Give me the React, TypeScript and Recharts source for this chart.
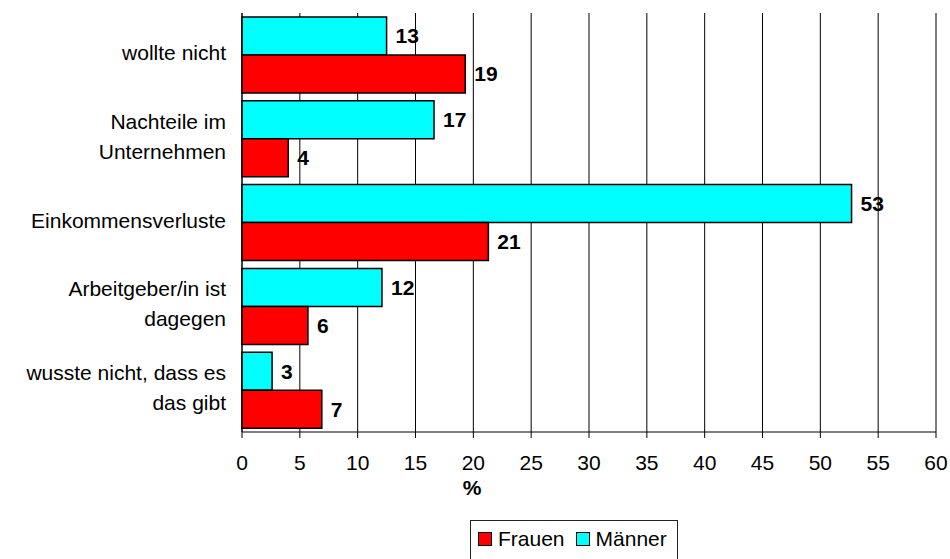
import React from 'react';
import {
  BarChart,
  Bar,
  XAxis,
  YAxis,
  CartesianGrid,
  LabelList,
  Legend,
  Label,
} from 'recharts';

const categories = [
  'wollte nicht',
  'Nachteile im\nUnternehmen',
  'Einkommensverluste',
  'Arbeitgeber/in ist\ndagegen',
  'wusste nicht, dass es\ndas gibt',
];
const maenner = [12.5, 16.6, 52.7, 12.1, 2.6];
const frauen = [19.3, 4.0, 21.3, 5.7, 6.9];
const xTicks = [0, 5, 10, 15, 20, 25, 30, 35, 40, 45, 50, 55, 60];
const boundaryTicks = [0, 1, 2, 3, 4, 5];
const legendItems = [
  { name: 'Frauen', color: '#FF0000' },
  { name: 'Männer', color: '#00FFFF' },
];

const data = categories.map((name, i) => ({
  name,
  maenner: maenner[i],
  frauen: frauen[i],
}));

const FONT = '"Liberation Sans", Arial, Helvetica, sans-serif';

const CategoryTick = (props: any) => {
  const { x, y, payload } = props;
  const lines = String(payload.value).split('\n');
  const lh = 30;
  const start = -((lines.length - 1) * lh) / 2 + 5;
  return (
    <text
      x={x}
      y={y}
      textAnchor="end"
      fontFamily={FONT}
      fontSize={21}
      fill="#000"
    >
      {lines.map((l, i) => (
        <tspan key={i} x={x} y={y + start + i * lh}>
          {l}
        </tspan>
      ))}
    </text>
  );
};

const LegendContent = () => (
  <div
    style={{
      boxSizing: 'border-box',
      width: 208,
      height: 42,
      border: '1px solid #222',
      background: '#fff',
      display: 'flex',
      alignItems: 'center',
      paddingLeft: 7,
      paddingBottom: 4,
      fontFamily: FONT,
      fontSize: 21,
      color: '#000',
    }}
  >
    {legendItems.map((it, i) => (
      <div
        key={it.name}
        style={{ display: 'flex', alignItems: 'center', marginRight: i === 0 ? 11 : 0 }}
      >
        <span
          style={{
            display: 'inline-block',
            width: 12,
            height: 12,
            border: '1.5px solid #000',
            background: it.color,
            marginRight: 6,
          }}
        />
        <span>{it.name}</span>
      </div>
    ))}
  </div>
);

export default function App() {
  return (
    <div style={{ position: 'absolute', left: 0, top: 0, background: '#fff' }}>
      <BarChart
        width={950}
        height={559}
        data={data}
        layout="vertical"
        margin={{ top: 13, right: 14, bottom: 61, left: 0 }}
        barCategoryGap={4}
        barGap={0}
      >
        <CartesianGrid
          xAxisId="main"
          yAxisId="cat"
          horizontal={false}
          vertical={true}
          stroke="#000"
          strokeWidth={1}
        />
        <XAxis
          xAxisId="main"
          type="number"
          domain={[0, 60]}
          ticks={xTicks}
          interval={0}
          height={66}
          tickSize={6}
          tickMargin={17}
          axisLine={{ stroke: '#000', strokeWidth: 1 }}
          tickLine={{ stroke: '#000' }}
          tick={{ fontFamily: FONT, fontSize: 21, fill: '#000' }}
        >
          <Label
            value="%"
            position="insideBottom"
            offset={3}
            dx={-117}
            style={{ fontFamily: FONT, fontSize: 21, fontWeight: 'bold', fill: '#000' }}
          />
        </XAxis>
        <XAxis
          xAxisId="top"
          orientation="top"
          type="number"
          domain={[0, 60]}
          height={0}
          tick={false}
          tickLine={false}
          axisLine={{ stroke: '#999', strokeWidth: 2 }}
        />
        <YAxis
          yAxisId="bounds"
          type="number"
          domain={[0, 5]}
          ticks={boundaryTicks}
          interval={0}
          allowDataOverflow
          width={0}
          tick={false}
          tickSize={6}
          tickLine={{ stroke: '#000' }}
          axisLine={false}
        />
        <YAxis
          yAxisId="cat"
          type="category"
          dataKey="name"
          width={242}
          interval={0}
          tickLine={false}
          tickSize={6}
          tickMargin={10}
          axisLine={{ stroke: '#000', strokeWidth: 1 }}
          tick={<CategoryTick />}
        />
        <YAxis
          yAxisId="right"
          orientation="right"
          type="number"
          domain={[0, 1]}
          width={0}
          tick={false}
          tickLine={false}
          axisLine={{ stroke: '#999', strokeWidth: 2 }}
        />
        <Legend
          layout="horizontal"
          align="center"
          verticalAlign="middle"
          wrapperStyle={{ left: 470, top: 520, width: 208 }}
          content={<LegendContent />}
        />
        <Bar
          xAxisId="main"
          yAxisId="cat"
          dataKey="maenner"
          name="Männer"
          fill="#00FFFF"
          stroke="#000"
          strokeWidth={1.5}
          isAnimationActive={false}
        >
          <LabelList
            dataKey="maenner"
            position="right"
            offset={9}
            formatter={(v: any) => Math.round(Number(v))}
            style={{ fontFamily: FONT, fontSize: 21, fontWeight: 'bold', fill: '#000' }}
          />
        </Bar>
        <Bar
          xAxisId="main"
          yAxisId="cat"
          dataKey="frauen"
          name="Frauen"
          fill="#FF0000"
          stroke="#000"
          strokeWidth={1.5}
          isAnimationActive={false}
        >
          <LabelList
            dataKey="frauen"
            position="right"
            offset={9}
            formatter={(v: any) => Math.round(Number(v))}
            style={{ fontFamily: FONT, fontSize: 21, fontWeight: 'bold', fill: '#000' }}
          />
        </Bar>
      </BarChart>
    </div>
  );
}
